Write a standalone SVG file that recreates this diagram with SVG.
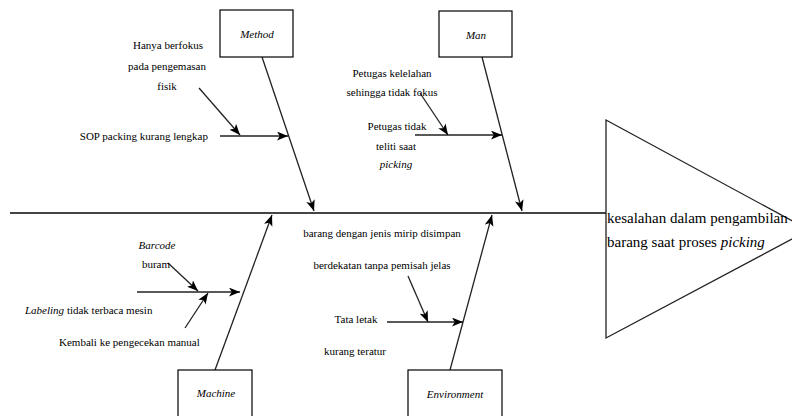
<svg xmlns="http://www.w3.org/2000/svg" width="792" height="416" viewBox="0 0 792 416">
<defs>
<marker id="ah" viewBox="0 0 10 8" refX="10" refY="4" markerWidth="11" markerHeight="9" markerUnits="userSpaceOnUse" orient="auto">
<path d="M0,0 L10,4 L0,8 L2.5,4 z" fill="#000"/>
</marker>
</defs>
<style>
text{font-family:'Liberation Serif',Tinos,Times,'DejaVu Serif',serif;font-size:11px;fill:#000}
.c{text-anchor:middle}
.i{font-style:italic}
.box{fill:#fff;stroke:#000;stroke-width:1.2}
.bone{stroke:#222;stroke-width:1.3;fill:none;marker-end:url(#ah)}
.spine{stroke:#444;stroke-width:2;fill:none}
.main{font-size:15px}
</style>
<rect width="792" height="416" fill="#fff"/>
<g id="connectors">
<line class="spine" x1="10" y1="213" x2="606" y2="213"/>
<line class="bone" x1="262" y1="57" x2="314" y2="211"/>
<line class="bone" x1="220" y1="136" x2="288" y2="136"/>
<line class="bone" x1="199" y1="88" x2="240" y2="135"/>
<line class="bone" x1="482" y1="57" x2="522" y2="211"/>
<line class="bone" x1="415" y1="135" x2="502" y2="135"/>
<line class="bone" x1="420" y1="93" x2="448" y2="135"/>
<line class="bone" x1="215" y1="370" x2="272" y2="215"/>
<line class="bone" x1="137" y1="292" x2="240" y2="292"/>
<line class="bone" x1="168" y1="263" x2="198" y2="291"/>
<line class="bone" x1="185" y1="328" x2="208" y2="293"/>
<line class="bone" x1="450" y1="370" x2="492" y2="215"/>
<line class="bone" x1="387" y1="322" x2="463" y2="322"/>
<line class="bone" x1="408" y1="276" x2="428" y2="322"/>
</g>
<g id="effect">
<polygon points="606,120 809,230 606,338" fill="#fff" stroke="#222" stroke-width="1.3"/>
<text class="main" x="607" y="223">kesalahan dalam pengambilan</text>
<text class="main" x="607" y="247">barang saat proses <tspan class="i">picking</tspan></text>
</g>
<g id="method">
<rect class="box" x="220" y="10" width="73" height="47"/>
<text class="c i" x="257" y="38" font-size="10">Method</text>
</g>
<g id="man">
<rect class="box" x="439" y="11" width="73" height="46"/>
<text class="c i" x="476" y="39" font-size="10">Man</text>
</g>
<g id="machine">
<rect class="box" x="178" y="370" width="74" height="52"/>
<text class="c i" x="216" y="397" font-size="10">Machine</text>
</g>
<g id="environment">
<rect class="box" x="408" y="370" width="94" height="52"/>
<text class="c i" x="455" y="398" font-size="10">Environment</text>
</g>
<g id="cause-method-1">
<text class="c" x="168" y="49">Hanya berfokus</text>
<text class="c" x="167" y="70">pada pengemasan</text>
<text class="c" x="167" y="90">fisik</text>
</g>
<g id="cause-method-2">
<text x="208" y="140" text-anchor="end">SOP packing kurang lengkap</text>
</g>
<g id="cause-man-1">
<text class="c" x="392" y="77">Petugas kelelahan</text>
<text class="c" x="392" y="96">sehingga tidak fokus</text>
</g>
<g id="cause-man-2">
<text class="c" x="397" y="130">Petugas tidak</text>
<text class="c" x="396" y="150">teliti saat</text>
<text class="c i" x="396" y="168">picking</text>
</g>
<g id="cause-machine-1">
<text class="c i" x="157" y="249">Barcode</text>
<text class="c" x="156" y="268">buram</text>
</g>
<g id="cause-machine-2">
<text x="25" y="314"><tspan class="i">Labeling</tspan> tidak terbaca mesin</text>
</g>
<g id="cause-machine-3">
<text x="59" y="346">Kembali ke pengecekan manual</text>
</g>
<g id="cause-env-1">
<text class="c" x="382" y="237">barang dengan jenis mirip disimpan</text>
<text class="c" x="382" y="269">berdekatan tanpa pemisah jelas</text>
</g>
<g id="cause-env-2">
<text class="c" x="356" y="323">Tata letak</text>
<text class="c" x="355" y="355">kurang teratur</text>
</g>
</svg>
